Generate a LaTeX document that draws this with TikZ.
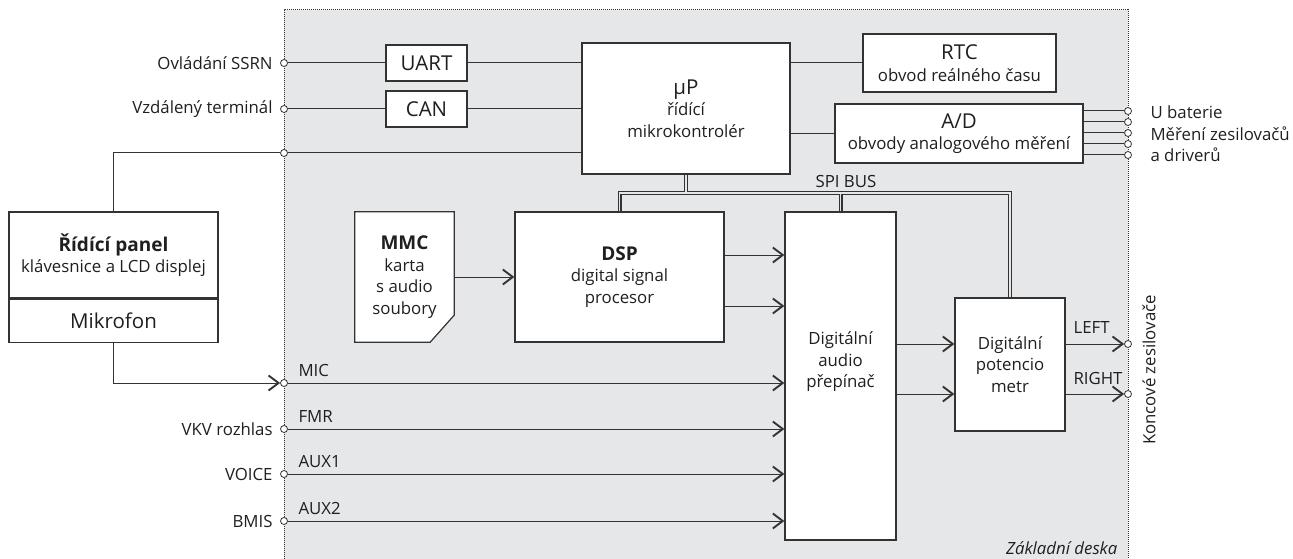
\documentclass[tikz,border=0pt]{standalone}
\usepackage{fontspec}
\setmainfont{Open Sans}
\usetikzlibrary{arrows.meta, positioning}

\definecolor{deska}{HTML}{E6E7E8}
\definecolor{cara}{HTML}{333333}

\pgfdeclarelayer{pozadi}
\pgfsetlayers{pozadi,main}

\newcommand{\nadpis}[1]{{\fontsize{20.5}{22}\selectfont #1}}
\newcommand{\tucne}[1]{{\fontsize{19}{22}\selectfont\bfseries #1}}

\tikzset{
	blok/.style = {draw=cara, line width=1.2pt, fill=white, align=center, inner sep=0pt},
	spoj/.style = {draw=cara, line width=1pt},
	sipka/.style = {spoj, -{Straight Barb[length=10pt, width=15pt, line width=1.9pt]}},
	pin/.style = {circle, draw=cara, fill=white, line width=0.8pt, inner sep=0pt, minimum size=7pt},
}

\begin{document}
\begin{tikzpicture}[x=1pt, y=-1pt, font=\fontsize{16.8}{21.5}\selectfont, text=black!88]
	\useasboundingbox (0,0) rectangle (1293,559);
	\def\xL{284};
	\def\xR{1128};

	% zakladni deska
	\begin{pgfonlayer}{pozadi}
		\fill[deska] (\xL,10) rectangle (\xR,559);
	\end{pgfonlayer}
	\draw[cara, densely dotted, line width=1pt] (\xL,559) -- (\xL,10) -- (\xR,10) -- (\xR,559);
	\node[anchor=base east, font=\fontsize{16.8}{18}\selectfont\itshape] (deskatxt) at (1121,554) {Základní deska};

	% bloky
	\node[blok, minimum width=81, minimum height=36] (uart) at (426.5,63) {\nadpis{UART}};
	\node[blok, minimum width=81, minimum height=36] (can) at (426.5,109) {\nadpis{CAN}};
	\node[blok, minimum width=208, minimum height=131] (up) at (686,108.5) {\nadpis{µP}\\řídící\\mikrokontrolér};
	\node[blok, minimum width=193, minimum height=58] (rtc) at (959.5,63) {\nadpis{RTC}\\obvod reálného času};
	\node[blok, minimum width=248, minimum height=59] (ad) at (959,133.5) {\nadpis{A/D}\\obvody analogového měření};
	\node[blok, minimum width=209, minimum height=130] (dsp) at (619.5,277) {\tucne{DSP}\\digital signal\\procesor};
	\node[align=center, minimum width=99, minimum height=130, inner sep=0pt] (mmc) at (404.5,277) {\tucne{MMC}\\karta\\s audio\\soubory};
	\node[blok, minimum width=111, minimum height=328] (sw) at (840.5,376) {};
	\node[align=center] (swtxt) at (840.5,362) {Digitální\\audio\\přepínač};
	\node[blok, minimum width=110, minimum height=133] (pot) at (1010,364.5) {Digitální\\potencio\\metr};
	\node[blok, minimum width=209, minimum height=86] (panel) at (113.5,255) {\tucne{Řídící panel}\\klávesnice a LCD displej};
	\node[blok, minimum width=209, minimum height=43, below=0pt of panel] (mikro) {\nadpis{Mikrofon}};

	\begin{pgfonlayer}{pozadi}
		\draw[blok] (mmc.north west) -- (mmc.north east) -- ([yshift=27pt]mmc.south east)
			-- ([xshift=-24pt]mmc.south east) -- (mmc.south west) -- cycle;
	\end{pgfonlayer}

	% piny
	\node[pin] (pa) at (\xL,63) {};
	\node[pin] (pb) at (\xL,109) {};
	\node[pin] (pc) at (\xL,153) {};
	\node[pin] (pmic) at (\xL,383) {};
	\node[pin] (pfmr) at (\xL,429) {};
	\node[pin] (paux1) at (\xL,474) {};
	\node[pin] (paux2) at (\xL,521) {};
	\node[pin] (pleft) at (\xR,344) {};
	\node[pin] (pright) at (\xR,394) {};
	\foreach \i/\y in {1/111, 2/122, 3/133, 4/144, 5/155}
		\node[pin] (q\i) at (\xR,\y) {};

	\node[left=4pt of pa] (tssrn) {Ovládání SSRN};
	\node[left=4pt of pb] (tterm) {Vzdálený terminál};
	\node[left=4pt of pfmr] (tvkv) {VKV rozhlas};
	\node[left=4pt of paux1] (tvoice) {VOICE};
	\node[left=4pt of paux2] (tbmis) {BMIS};
	\node[anchor=west, align=left] (tmer) at (1147,134) {U baterie\\Měření zesilovačů\\a driverů};
	\node[rotate=90] (tkonc) at (1149,370) {Koncové zesilovače};

	\node[anchor=base west] (tmic) at ([xshift=11pt, yshift=7pt]pmic.center) {MIC};
	\node[anchor=base west] (tfmr) at ([xshift=11pt, yshift=7pt]pfmr.center) {FMR};
	\node[anchor=base west] (taux1) at ([xshift=11pt, yshift=7pt]paux1.center) {AUX1};
	\node[anchor=base west] (taux2) at ([xshift=11pt, yshift=7pt]paux2.center) {AUX2};
	\node[anchor=base west] (tl) at ([yshift=11pt]pleft.center -| 1070,0) {LEFT};
	\node[anchor=base west] (tr) at ([yshift=10pt]pright.center -| 1070,0) {RIGHT};
	\node[anchor=base west] (tspi) at (812,187) {SPI BUS};

	% spoje
	\draw[spoj] (pa) -- (uart);
	\draw[spoj] (uart) -- (uart -| up.west);
	\draw[spoj] (pb) -- (can);
	\draw[spoj] (can) -- (can -| up.west);
	\draw[spoj] (pc) -- (pc -| up.west);
	\draw[spoj] (up.east |- rtc) -- (rtc);
	\draw[spoj] (up.east |- ad) -- (ad);
	\foreach \i in {1,...,5}
		\draw[spoj] (ad.east |- q\i) -- (q\i);
	\draw[spoj] (panel.north) |- (pc);
	\draw[sipka] (mikro.south) |- (pmic);

	\foreach \p in {pmic, pfmr, paux1, paux2}
		\draw[sipka] (\p) -- (\p -| sw.west);
	\draw[sipka] (mmc.east) -- (dsp.west);
	\draw[sipka] ([yshift=22pt]dsp.east) -- ([yshift=22pt]dsp.east -| sw.west);
	\draw[sipka] ([yshift=-29pt]dsp.east) -- ([yshift=-29pt]dsp.east -| sw.west);
	\draw[sipka] (sw.east |- pleft) -- (pot.west |- pleft);
	\draw[sipka] (sw.east |- pright) -- (pot.west |- pright);
	\draw[sipka] (pot.east |- pleft) -- (pleft);
	\draw[sipka] (pot.east |- pright) -- (pright);

	% SPI sbernice
	\coordinate (bus) at (685,193);
	\begin{pgfonlayer}{pozadi}
		\foreach \w/\c in {4/cara, 1.8/deska}
			\draw[line width=\w pt, \c] (dsp.north) |- (bus) -| (pot.north)
				(up.south) -- (up.south |- bus) (sw.north |- bus) -- (sw.north);
	\end{pgfonlayer}
\end{tikzpicture}
\end{document}
